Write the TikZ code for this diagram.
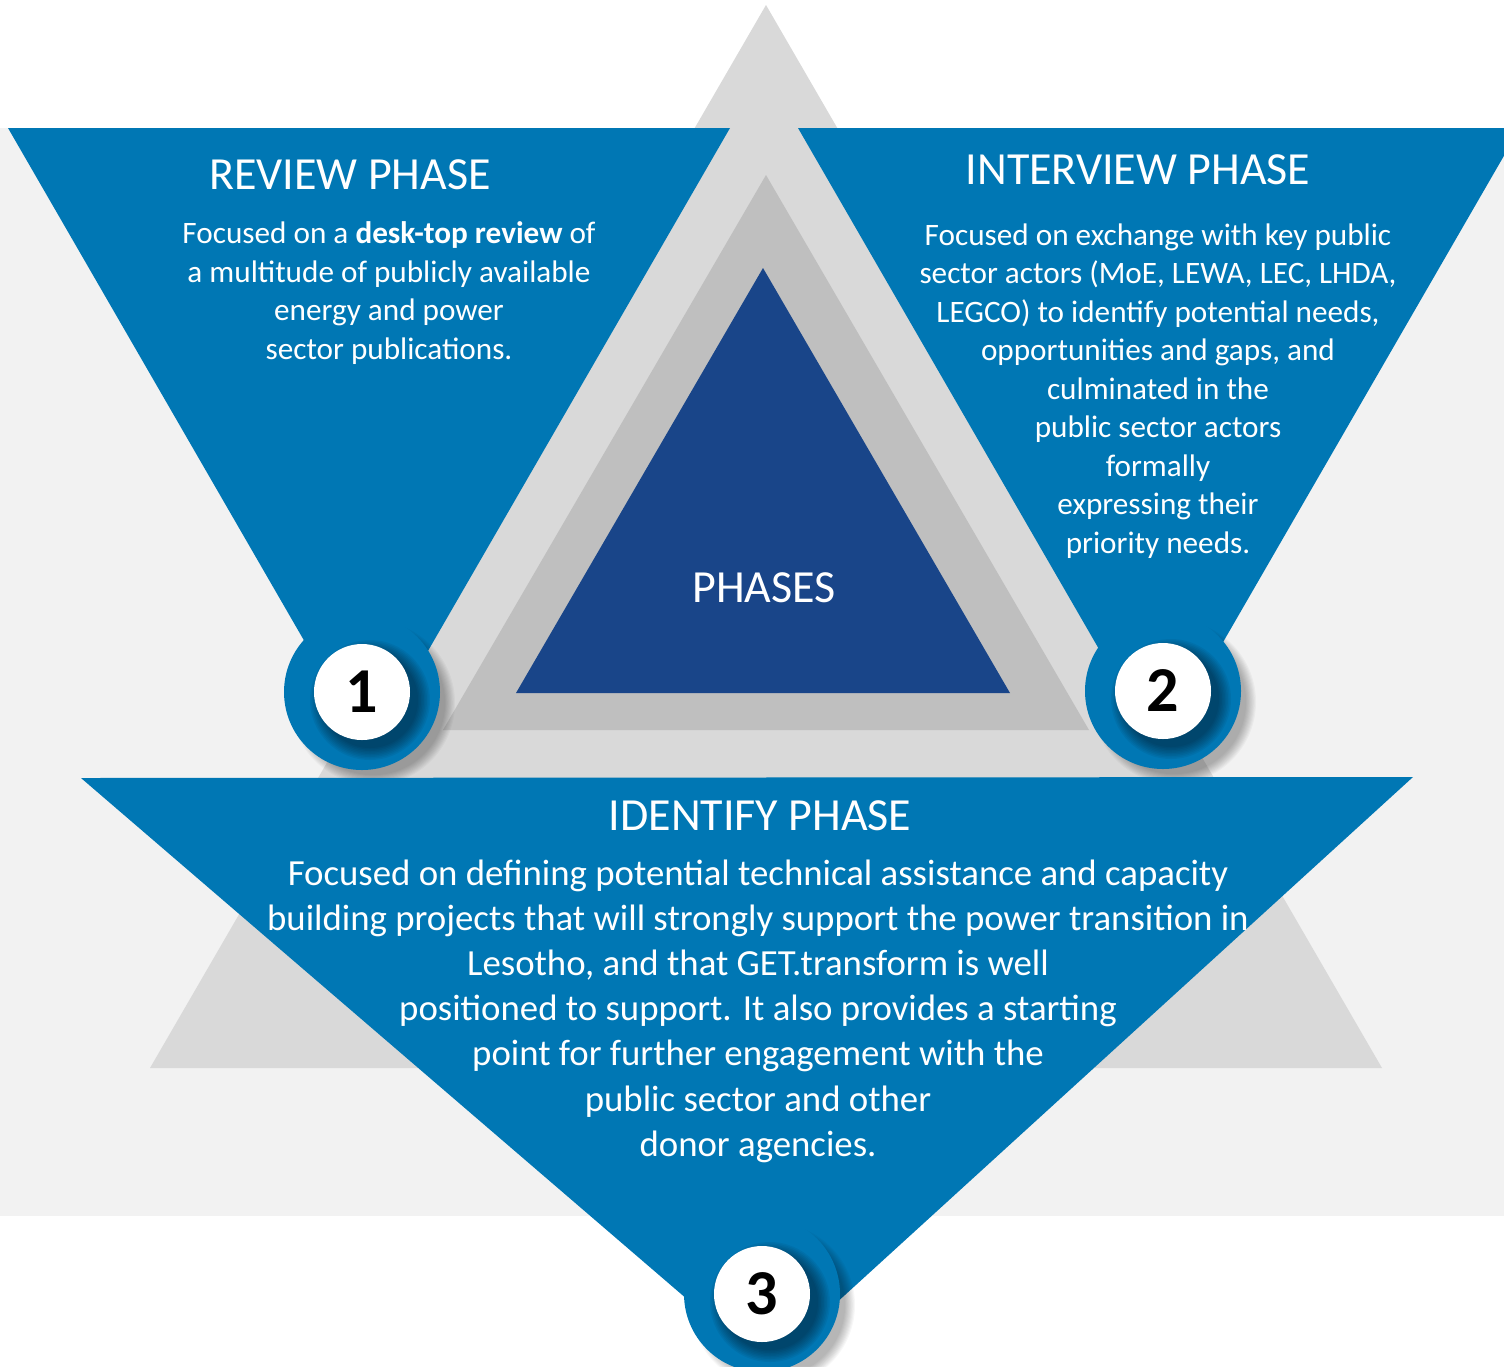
\documentclass[tikz,border=0pt]{standalone}
\usepackage{fontspec}
\setmainfont{Carlito}
\usetikzlibrary{calc}
\definecolor{bluemain}{RGB}{0,119,180}
\definecolor{navytri}{RGB}{25,69,137}
\definecolor{grayA}{RGB}{217,217,217}
\definecolor{grayB}{RGB}{191,191,191}
\definecolor{grayBG}{RGB}{242,242,242}
\tikzset{
  titletext/.style={text=white,font=\fontsize{23}{26}\selectfont,inner sep=0pt},
  bodytext/.style={text=white,align=center,font=\fontsize{15.6}{19.25}\selectfont,inner sep=0pt},
  bigbody/.style={text=white,align=center,font=\fontsize{18.4}{22.6}\selectfont,inner sep=0pt},
  numtext/.style={text=black,font=\fontsize{32}{32}\selectfont\bfseries,inner sep=0pt}
}
\newcommand\mybadge[3]{%
  \foreach \k in {0,...,9}
    \fill[black,opacity=0.03] ($(#1)+(11,11)$) circle[radius=82-1.1*\k];
  \fill[bluemain] (#1) circle[radius=78];
  \begin{scope}
    \clip (#1) circle[radius=78];
    \foreach \k in {0,...,8}
      \fill[black,opacity=0.05] ($(#1)+(8,8)$) circle[radius=60-1.5*\k];
  \end{scope}
  \fill[white] (#1) circle[radius=48];
  \node[numtext] (#3) at (#1) {#2};
}
\begin{document}
\begin{tikzpicture}[x=0.5pt,y=-0.5pt]
\useasboundingbox (0,0) rectangle (1504,1366);
\fill[white] (0,0) rectangle (1504,1366);
\fill[grayBG] (0,128) rectangle (1504,1216);
% nested triangles
\fill[grayA] (766,5) -- (1382,1068) -- (150,1068) -- cycle;
\fill[grayB] (766,175) -- (1089,730) -- (443,730) -- cycle;
\fill[navytri] (763,268) -- (1010,693) -- (516,693) -- cycle;
\node[titletext] (phases) at (764,588) {PHASES};
% side inverted triangles
\fill[bluemain] (8,128) -- (730,128) -- (369,753) -- cycle;
\fill[bluemain] (798,128) -- (1520,128) -- (1159,753) -- cycle;
\coordinate (c1) at (362,692);
\coordinate (c2) at (1163,691);
\coordinate (c3) at (762,1294);
\mybadge{c1}{1}{n1}
\mybadge{c2}{2}{n2}
% bottom inverted triangle
\fill[bluemain] (81,778) -- (1413,777) -- (766,1367) -- cycle;
\mybadge{c3}{3}{n3}
% texts
\node[titletext] (t1) at (350,175) {REVIEW PHASE};
\node[bodytext] (b1) at (389,293) {Focused on a \textbf{desk-top review} of\\a multitude of publicly available\\energy and power\\sector publications.};
\node[titletext] (t2) at (1138,170) {INTERVIEW PHASE};
\node[bodytext] (b2) at (1158,391) {Focused on exchange with key public\\sector actors (MoE, LEWA, LEC, LHDA,\\LEGCO) to identify potential needs,\\opportunities and gaps, and\\culminated in the\\public sector actors\\formally\\expressing their\\priority needs.};
\node[titletext] (t3) at (760,816) {IDENTIFY PHASE};
\node[bigbody] (b3) at (758,1011) {Focused on defining potential technical assistance and capacity\\building projects that will strongly support the power transition in\\Lesotho, and that GET.transform is well\\positioned to support. It also provides a starting\\point for further engagement with the\\public sector and other\\donor agencies.};
\end{tikzpicture}
\end{document}
